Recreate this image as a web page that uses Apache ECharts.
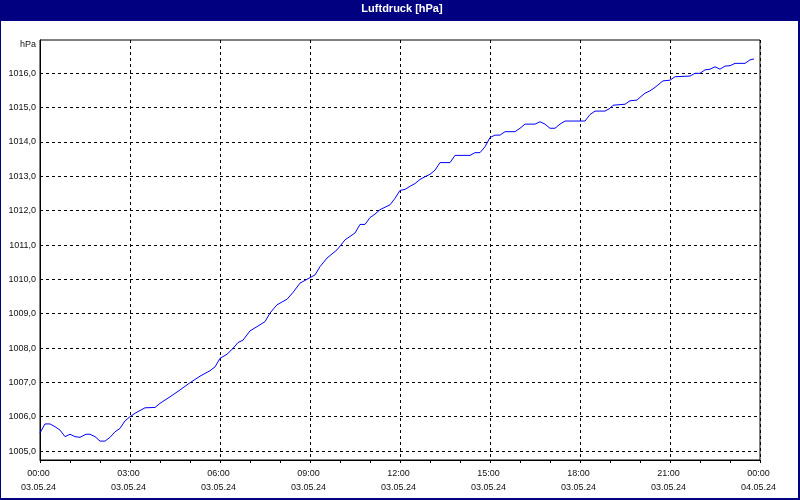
<!DOCTYPE html>
<html><head><meta charset="utf-8">
<script src="https://cdn.jsdelivr.net/npm/echarts@6/dist/echarts.min.js"></script>
<style>html,body{margin:0;padding:0;background:#fff}#c{width:800px;height:500px}</style>
</head><body><div id="c"></div>
<script>
const titleText = 'Luftdruck [hPa]';
const unitText = 'hPa';
// minutes since 03.05.24 00:00
const minutes = [0,10,20,30,40,50,60,70,80,92,100,110,120,130,140,150,160,170,180,190,210,230,240,260,280,300,320,340,350,360,374,386,396,406,420,436,450,460,474,494,506,520,540,550,560,574,594,610,630,640,650,660,670,680,700,710,720,730,740,750,760,770,780,790,800,820,830,860,870,880,890,900,910,920,930,950,960,970,990,1000,1010,1020,1030,1040,1050,1090,1100,1110,1130,1140,1146,1170,1180,1194,1200,1210,1220,1230,1240,1246,1260,1270,1300,1310,1320,1330,1340,1350,1360,1370,1380,1390,1410,1420,1428];
const pressure = [1005.53,1005.79,1005.79,1005.71,1005.61,1005.42,1005.49,1005.42,1005.40,1005.49,1005.49,1005.42,1005.29,1005.29,1005.40,1005.56,1005.66,1005.88,1006.00,1006.10,1006.26,1006.27,1006.39,1006.58,1006.78,1006.99,1007.18,1007.34,1007.45,1007.70,1007.82,1007.99,1008.16,1008.23,1008.50,1008.64,1008.77,1009.02,1009.26,1009.42,1009.62,1009.89,1010.05,1010.13,1010.37,1010.62,1010.86,1011.15,1011.35,1011.60,1011.60,1011.80,1011.90,1012.03,1012.17,1012.36,1012.59,1012.62,1012.71,1012.79,1012.91,1012.99,1013.06,1013.18,1013.40,1013.40,1013.61,1013.61,1013.69,1013.69,1013.86,1014.13,1014.20,1014.20,1014.30,1014.30,1014.40,1014.52,1014.52,1014.59,1014.52,1014.40,1014.40,1014.52,1014.61,1014.61,1014.80,1014.90,1014.90,1014.98,1015.07,1015.10,1015.20,1015.22,1015.30,1015.42,1015.49,1015.59,1015.71,1015.78,1015.80,1015.90,1015.92,1016.00,1016.00,1016.10,1016.12,1016.19,1016.12,1016.21,1016.22,1016.29,1016.29,1016.39,1016.42];
const xTickTimes = ['00:00','03:00','06:00','09:00','12:00','15:00','18:00','21:00','00:00'];
const xTickDates = ['03.05.24','03.05.24','03.05.24','03.05.24','03.05.24','03.05.24','03.05.24','03.05.24','04.05.24'];
const yTicks = [1005,1006,1007,1008,1009,1010,1011,1012,1013,1014,1015,1016];

const chart = echarts.init(document.getElementById('c'), null, {renderer:'canvas'});
const font = 'Liberation Sans';
const data = minutes.map((m,i)=>[m/60, pressure[i]]);
chart.setOption({
  animation:false,
  backgroundColor:'#ffffff',
  textStyle:{fontFamily:font},
  graphic:[
    {type:'rect', shape:{x:0,y:0,width:800,height:21}, style:{fill:'#000080'}, silent:true},
    {type:'rect', shape:{x:0,y:0,width:1,height:500}, style:{fill:'#000080'}, silent:true},
    {type:'rect', shape:{x:798,y:0,width:2,height:500}, style:{fill:'#000080'}, silent:true},
    {type:'rect', shape:{x:0,y:498,width:800,height:2}, style:{fill:'#000080'}, silent:true},
    {type:'text', x:402, y:9, style:{text:titleText, fill:'#ffffff', font:'bold 11px "Liberation Sans"', align:'center', verticalAlign:'middle'}, silent:true},
    {type:'text', x:36, y:45, style:{text:unitText, fill:'#111111', font:'9px "Liberation Sans"', align:'right', verticalAlign:'middle'}, silent:true}
  ],
  grid:{left:40, top:40, width:720, height:420, show:true, borderColor:'#000', borderWidth:1, backgroundColor:'transparent'},
  xAxis:{
    type:'value', min:0, max:24, interval:3,
    axisLine:{show:true, onZero:false, lineStyle:{color:'#000', width:1}},
    axisTick:{show:true, length:3, lineStyle:{color:'#000'}},
    minorTick:{show:true, splitNumber:3, length:3, lineStyle:{color:'#000'}},
    splitLine:{show:true, lineStyle:{color:'#000', type:[3,3], width:1}},
    axisLabel:{
      margin:6, fontSize:9, lineHeight:14.5, color:'#111', fontFamily:font,
      padding:[0,3,0,0],
      showMinLabel:true, showMaxLabel:true,
      formatter:(v)=>{const i=Math.round(v/3); return xTickTimes[i]+'\n'+xTickDates[i];}
    }
  },
  yAxis:{
    type:'value', min:1004.74, max:1016.97,
    axisLine:{show:true, onZero:false, lineStyle:{color:'#000', width:1}},
    axisTick:{show:false, customValues:yTicks},
    splitLine:{show:true, lineStyle:{color:'#000', type:[3,3], width:1}},
    axisLabel:{
      customValues:yTicks, margin:4, fontSize:9, color:'#111', fontFamily:font,
      formatter:(v)=>v.toFixed(1).replace('.',',')
    }
  },
  series:[{
    type:'line', data:data, showSymbol:false, symbol:'none',
    lineStyle:{color:'#0000ff', width:1}, silent:true
  }]
});
</script></body></html>
